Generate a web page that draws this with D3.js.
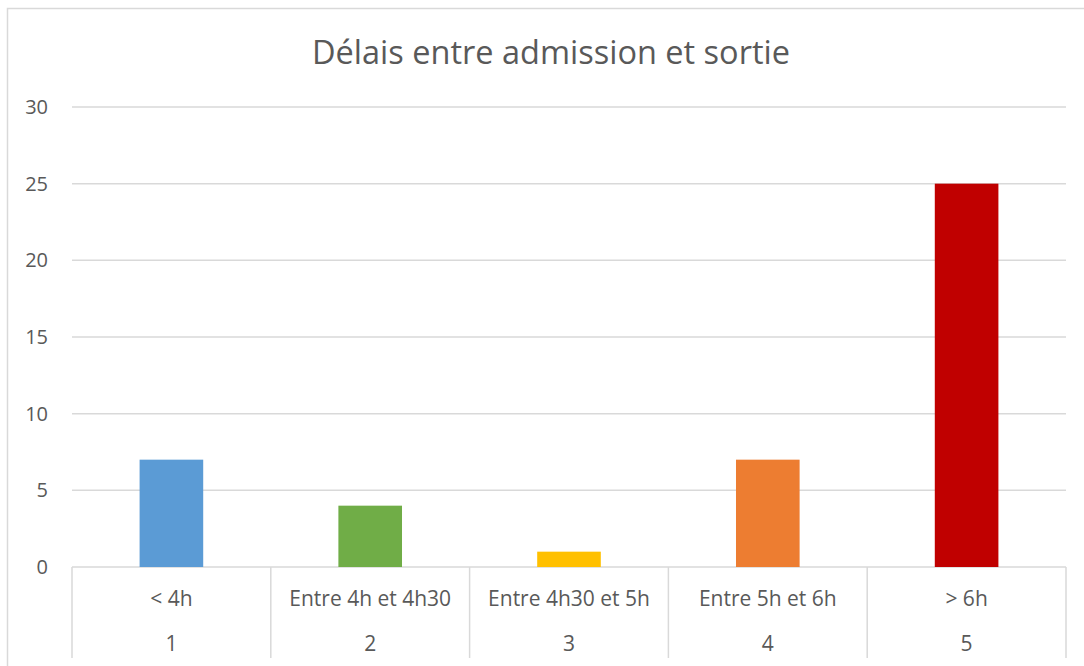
<!DOCTYPE html>
<html>
<head>
<meta charset="utf-8">
<script src="https://cdn.jsdelivr.net/npm/d3@7"></script>
<style>
  body { margin: 0; background: #fff; }
  svg { display: block; font-family: "Open Sans", "Noto Sans", sans-serif; }
</style>
</head>
<body>
<svg id="chart"></svg>
<script>
// Data
const categories = ["< 4h", "Entre 4h et 4h30", "Entre 4h30 et 5h", "Entre 5h et 6h", "> 6h"];
const groupLabels = ["1", "2", "3", "4", "5"];
const values = [7, 4, 1, 7, 25];
const barColors = ["#5B9BD5", "#70AD47", "#FFC000", "#ED7D31", "#C00000"];
const yTicks = [0, 5, 10, 15, 20, 25, 30];

const W = 1084, H = 666;
const margin = { top: 107, right: 18, bottom: 99, left: 72 };
const width = W - margin.left - margin.right,
  height = H - margin.top - margin.bottom;

const textColor = "#595959",
  gridColor = "#d9d9d9";

const svg = d3.select("#chart").attr("width", W).attr("height", H);

// outer chart frame (runs off the right/bottom edges)
svg.append("rect")
  .attr("x", 7.5).attr("y", 8.5)
  .attr("width", W + 20).attr("height", H + 20)
  .attr("fill", "none")
  .attr("stroke", gridColor)
  .attr("stroke-width", 1.5);

svg.append("text")
  .text("Délais entre admission et sortie")
  .attr("x", 551).attr("y", 64)
  .attr("text-anchor", "middle")
  .attr("fill", textColor)
  .style("font-size", "32.5px");

const g = svg.append("g")
  .attr("transform", "translate(" + margin.left + "," + margin.top + ")");

const x = d3.scaleBand().domain(categories).range([0, width]).paddingInner(0.68).paddingOuter(0.34);
const xBand = d3.scaleBand().domain(categories).range([0, width]);
const y = d3.scaleLinear().domain([0, 30]).range([height, 0]);

// gridlines
g.selectAll(".grid")
  .data(yTicks)
  .enter().append("line")
  .attr("x1", 0).attr("x2", width)
  .attr("y1", d => y(d)).attr("y2", d => y(d))
  .attr("stroke", gridColor)
  .attr("stroke-width", 1.5);

// y labels
g.selectAll(".ylab")
  .data(yTicks)
  .enter().append("text")
  .text(d => d)
  .attr("x", -24)
  .attr("y", d => y(d) + 7)
  .attr("text-anchor", "end")
  .attr("fill", textColor)
  .style("font-size", "20px");

// bars
g.selectAll(".bar")
  .data(values)
  .enter().append("rect")
  .attr("x", (d, i) => x(categories[i]))
  .attr("width", x.bandwidth())
  .attr("y", d => y(d))
  .attr("height", d => y(0) - y(d))
  .attr("fill", (d, i) => barColors[i]);

// category separators
const seps = categories.map(c => xBand(c)).concat([width]);
g.selectAll(".sep")
  .data(seps)
  .enter().append("line")
  .attr("x1", d => d).attr("x2", d => d)
  .attr("y1", height).attr("y2", height + 91)
  .attr("stroke", gridColor)
  .attr("stroke-width", 1.5);

// two-level category labels
g.selectAll(".cat")
  .data(categories)
  .enter().append("text")
  .text(d => d)
  .attr("x", d => xBand(d) + xBand.bandwidth() / 2)
  .attr("y", height + 39)
  .attr("text-anchor", "middle")
  .attr("fill", textColor)
  .style("font-size", "21px");

g.selectAll(".grp")
  .data(groupLabels)
  .enter().append("text")
  .text(d => d)
  .attr("x", (d, i) => xBand(categories[i]) + xBand.bandwidth() / 2)
  .attr("y", height + 84)
  .attr("text-anchor", "middle")
  .attr("fill", textColor)
  .style("font-size", "21px");
</script>
</body>
</html>
